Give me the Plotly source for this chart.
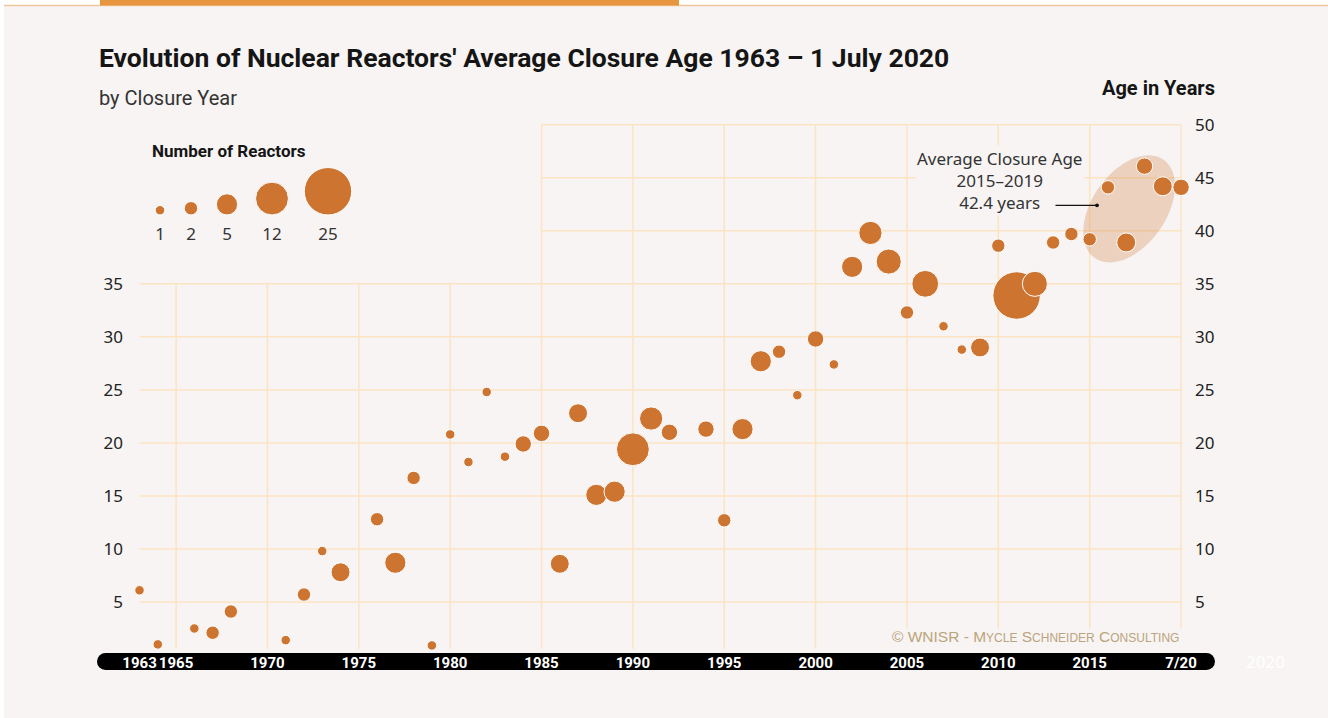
import numpy as np
import plotly.graph_objects as go

# Stilllegungsjahr, mittleres Alter bei Stilllegung, Anzahl Reaktoren
years = [1963, 1964, 1966, 1967, 1968, 1971, 1972, 1973, 1974, 1976, 1977, 1978,
         1979, 1980, 1981, 1982, 1983, 1984, 1985, 1986, 1987, 1988, 1989, 1990,
         1991, 1992, 1994, 1995, 1996, 1997, 1998, 1999, 2000, 2001, 2002, 2003,
         2004, 2005, 2006, 2007, 2008, 2009, 2010, 2011, 2012, 2013, 2014, 2015,
         2016, 2017, 2018, 2019, 2020]
ages = [6.1, 1.0, 2.5, 2.1, 4.1, 1.4, 5.7, 9.8, 7.8, 12.8, 8.7, 16.7,
        0.9, 20.8, 18.2, 24.8, 18.7, 19.9, 20.9, 8.6, 22.8, 15.1, 15.4, 19.4,
        22.3, 21.0, 21.3, 12.7, 21.3, 27.7, 28.6, 24.5, 29.8, 27.4, 36.6, 39.8,
        37.1, 32.3, 35.0, 31.0, 28.8, 29.0, 38.6, 33.9, 35.0, 38.9, 39.7, 39.2,
        44.1, 38.9, 46.1, 44.2, 44.1]
reactors = [1, 1, 1, 2, 2, 1, 2, 1, 4, 2, 5, 2,
            1, 1, 1, 1, 1, 3, 3, 4, 4, 5, 5, 12,
            6, 3, 3, 2, 5, 5, 2, 1, 3, 1, 5, 6,
            7, 2, 8, 1, 1, 4, 2, 25, 7, 2, 2, 2,
            2, 4, 3, 4, 3]

legend_counts = [1, 2, 5, 12, 25]

x_tickvals = [1963, 1965, 1970, 1975, 1980, 1985, 1990, 1995, 2000, 2005, 2010, 2015, 2020]
x_ticktext = ["1963", "1965", "1970", "1975", "1980", "1985", "1990", "1995",
              "2000", "2005", "2010", "2015", "7/20"]
left_ticks = [5, 10, 15, 20, 25, 30, 35]
right_ticks = [5, 10, 15, 20, 25, 30, 35, 40, 45, 50]

avg_label_year = 2015.4
avg_2015_2019 = 42.4

BG = "#F7F4F3"
BUBBLE = "#CC7430"
GRID = "#FCE4C2"
INK = "#151515"
TEXT_FONT = "Noto Sans"
COND_FONT = "Roboto"
SIZEREF = 0.0222  # Durchmesser ~9.5 px * sqrt(Anzahl)

W, H = 1328, 718
ML, MR, MT, MB = 124, 138, 120, 63
PW, PH = W - ML - MR, H - MT - MB
Y_RANGE = [0, 50.45]


def px(x):
    return (x - ML) / PW


def py(y):
    return (H - MB - y) / PH


fig = go.Figure()

fig.add_scatter(
    x=years, y=ages, mode="markers",
    marker=dict(size=reactors, sizemode="area", sizeref=SIZEREF, color=BUBBLE,
                opacity=1, line=dict(color="white", width=1)),
    cliponaxis=False, hoverinfo="skip", showlegend=False,
)
# unsichtbare Spur, damit die rechte Achse gezeichnet wird
fig.add_scatter(
    x=years, y=ages, mode="markers", yaxis="y2", marker=dict(opacity=0),
    hoverinfo="skip", showlegend=False,
)

# Groessenlegende (eigene Achsen in Pixel-Einheiten)
legend_x = [160, 191, 227, 272, 328]
legend_y = [215 - 0.5 * np.sqrt(2 * n / SIZEREF) for n in legend_counts]
fig.add_scatter(
    x=legend_x, y=legend_y, mode="markers", xaxis="x3", yaxis="y3",
    marker=dict(size=legend_counts, sizemode="area", sizeref=SIZEREF, color=BUBBLE,
                opacity=1),
    cliponaxis=False, hoverinfo="skip", showlegend=False,
)
fig.add_scatter(
    x=legend_x, y=[236] * len(legend_x), mode="text", xaxis="x3", yaxis="y3",
    text=[str(n) for n in legend_counts],
    textfont=dict(family=TEXT_FONT, size=17, color="#333"),
    cliponaxis=False, hoverinfo="skip", showlegend=False,
)

shapes = []
# Kartenhintergrund / Kopfzeile
shapes.append(dict(type="rect", xref="paper", yref="paper", x0=px(0), x1=px(W),
                   y0=py(0), y1=py(5), fillcolor="white", line_width=0, layer="below"))
shapes.append(dict(type="rect", xref="paper", yref="paper", x0=px(0), x1=px(4),
                   y0=py(0), y1=py(H), fillcolor="white", line_width=0, layer="below"))
shapes.append(dict(type="line", xref="paper", yref="paper", x0=px(4), x1=px(W),
                   y0=py(5.5), y1=py(5.5), line=dict(color="#F1C79C", width=1.5)))
shapes.append(dict(type="rect", xref="paper", yref="paper", x0=px(100), x1=px(679),
                   y0=py(0), y1=py(5.5), fillcolor="#E8953F", line_width=0))

# Gitternetz
for v in left_ticks:
    shapes.append(dict(type="line", xref="x", yref="y", x0=1963, x1=2020, y0=v, y1=v,
                       line=dict(color=GRID, width=1.5), layer="below"))
for v in right_ticks:
    if v > 35:
        shapes.append(dict(type="line", xref="x", yref="y", x0=1985, x1=2020, y0=v, y1=v,
                           line=dict(color=GRID, width=1.5), layer="below"))
for yr in range(1965, 2021, 5):
    y0 = 0.6 if yr < 2005 else 2.5
    y1 = 35 if yr < 1985 else 50
    shapes.append(dict(type="line", xref="x", yref="y", x0=yr, x1=yr, y0=y0, y1=y1,
                       line=dict(color=GRID, width=1.5), layer="below"))

# Ellipse um 2015-2019
a, b, theta = 60, 37, np.radians(55)
t = np.linspace(0, 2 * np.pi, 73)
ex = a * np.cos(t) * np.cos(theta) - b * np.sin(t) * np.sin(theta)
ey = a * np.cos(t) * np.sin(theta) + b * np.sin(t) * np.cos(theta)
path = "M " + " L ".join(f"{u:.2f},{w:.2f}" for u, w in zip(ex, ey)) + " Z"
shapes.append(dict(type="path", xref="x", yref="y", xsizemode="pixel", ysizemode="pixel",
                   xanchor=2017.16, yanchor=42.07, path=path,
                   fillcolor="rgba(204,116,48,0.27)", line_width=0, layer="below"))

# schwarzer Zeitleisten-Balken
shapes.append(dict(type="rect", xref="paper", yref="paper", x0=px(105.5), x1=px(1206.5),
                   y0=py(670), y1=py(653), fillcolor="black", line_width=0, layer="below"))
for cx in (105.5, 1206.5):
    shapes.append(dict(type="circle", xref="paper", yref="paper", xsizemode="pixel",
                       ysizemode="pixel", xanchor=px(cx), yanchor=py(661.5),
                       x0=-8.5, x1=8.5, y0=-8.5, y1=8.5,
                       fillcolor="black", line_width=0, layer="below"))

annotations = [
    dict(xref="paper", yref="paper", x=px(97), y=py(58), xanchor="left", yanchor="middle",
         text="<b>Evolution of Nuclear Reactors' Average Closure Age 1963 – 1 July 2020</b>",
         showarrow=False, font=dict(family=COND_FONT, size=26.5, color=INK)),
    dict(xref="paper", yref="paper", x=px(97), y=py(98), xanchor="left", yanchor="middle",
         text="by Closure Year", showarrow=False,
         font=dict(family=COND_FONT, size=20, color="#333")),
    dict(xref="paper", yref="paper", x=px(1217), y=py(88), xanchor="right", yanchor="middle",
         text="<b>Age in Years</b>", showarrow=False,
         font=dict(family=COND_FONT, size=20, color=INK)),
    dict(xref="paper", yref="paper", x=px(150), y=py(151), xanchor="left", yanchor="middle",
         text="<b>Number of Reactors</b>", showarrow=False,
         font=dict(family=COND_FONT, size=17, color=INK)),
    dict(xref="x", yref="y", x=2010.04, y=44.7, xanchor="center", yanchor="middle",
         text="Average Closure Age<br>2015–2019<br>42.4 years", showarrow=False,
         bgcolor=BG, align="center",
         font=dict(family=TEXT_FONT, size=17, color="#333")),
    dict(xref="x", yref="y", x=avg_label_year, y=avg_2015_2019, ax=-43, ay=0,
         axref="pixel", ayref="pixel", text="", showarrow=True,
         arrowhead=6, arrowsize=0.8, arrowwidth=1.2, arrowcolor="#111"),
    dict(xref="x", yref="paper", x=2020, y=py(636), xanchor="right", yanchor="middle",
         text="© WNISR - M<span style='font-size:12px'>YCLE</span> "
              "S<span style='font-size:12px'>CHNEIDER</span> "
              "C<span style='font-size:12px'>ONSULTING</span>",
         showarrow=False, font=dict(family="Liberation Sans", size=15.5, color="#BBA47C")),
    dict(xref="paper", yref="paper", x=px(1265), y=py(661), xanchor="center", yanchor="middle",
         text="2020", showarrow=False, font=dict(family=TEXT_FONT, size=17, color="#FFFFFF")),
]

fig.update_layout(
    width=W, height=H,
    margin=dict(l=ML, r=MR, t=MT, b=MB),
    paper_bgcolor=BG, plot_bgcolor="rgba(0,0,0,0)",
    shapes=shapes, annotations=annotations, showlegend=False,
    xaxis=dict(range=[1962.15, 2020.49], tickvals=x_tickvals, ticktext=x_ticktext,
               tickangle=0, showgrid=False, zeroline=False, showline=False, ticks="",
               tickfont=dict(family=COND_FONT, size=15, color="white", weight="bold"),
               ticklabelstandoff=-3),
    yaxis=dict(range=Y_RANGE, tickvals=left_ticks, showgrid=False, zeroline=False,
               showline=False, ticks="", tickfont=dict(family=TEXT_FONT, size=17, color="#222")),
    yaxis2=dict(range=Y_RANGE, tickvals=right_ticks, overlaying="y", side="right",
                showgrid=False, zeroline=False, showline=False, ticks="",
                ticklabelstandoff=4,
                tickfont=dict(family=TEXT_FONT, size=17, color="#222")),
    xaxis3=dict(domain=[px(140), px(360)], range=[140, 360], anchor="y3", visible=False),
    yaxis3=dict(domain=[py(250), py(170)], range=[250, 170], anchor="x3", visible=False),
)

fig.write_html("out.html", config={"displayModeBar": False},
               post_script="document.body.style.margin='0px';")
